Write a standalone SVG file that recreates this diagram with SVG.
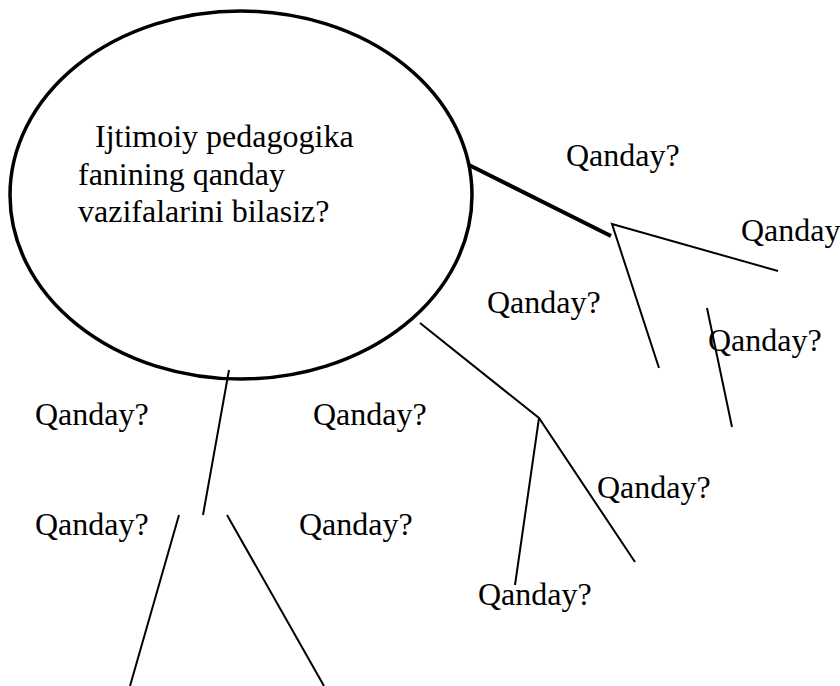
<svg xmlns="http://www.w3.org/2000/svg" width="840" height="686" viewBox="0 0 840 686">
<style>
text{font-family:"Liberation Serif","Times New Roman",serif;font-size:32px;fill:#000}
.c{stroke:#000;stroke-width:2;fill:none}
.t{stroke:#000;stroke-width:4;fill:none}
</style>
<rect width="840" height="686" fill="#fff"/>
<g id="center">
<ellipse cx="241" cy="195" rx="231" ry="184" fill="#fff" stroke="#000" stroke-width="3.5"/>
<text x="95" y="147">Ijtimoiy pedagogika</text>
<text x="78" y="185">fanining qanday</text>
<text x="78" y="222">vazifalarini bilasiz?</text>
</g>
<g id="connectors">
<line class="t" x1="469" y1="165" x2="611" y2="236"/>
<polyline class="c" points="778,271 612,224 659,368"/>
<line class="c" x1="707" y1="308" x2="732" y2="427"/>
<polyline class="c" points="420,323 539,418 635,562"/>
<line class="c" x1="539" y1="418" x2="515" y2="585"/>
<line class="c" x1="229" y1="370" x2="203" y2="515"/>
<line class="c" x1="179" y1="515" x2="130" y2="686"/>
<line class="c" x1="227" y1="515" x2="324" y2="686"/>
</g>
<g id="labels">
<text x="566" y="166">Qanday?</text>
<text x="741" y="241">Qanday</text>
<text x="487" y="313">Qanday?</text>
<text x="708" y="351">Qanday?</text>
<text x="35" y="425">Qanday?</text>
<text x="313" y="425">Qanday?</text>
<text x="35" y="535">Qanday?</text>
<text x="299" y="535">Qanday?</text>
<text x="597" y="498">Qanday?</text>
<text x="478" y="605">Qanday?</text>
</g>
</svg>
